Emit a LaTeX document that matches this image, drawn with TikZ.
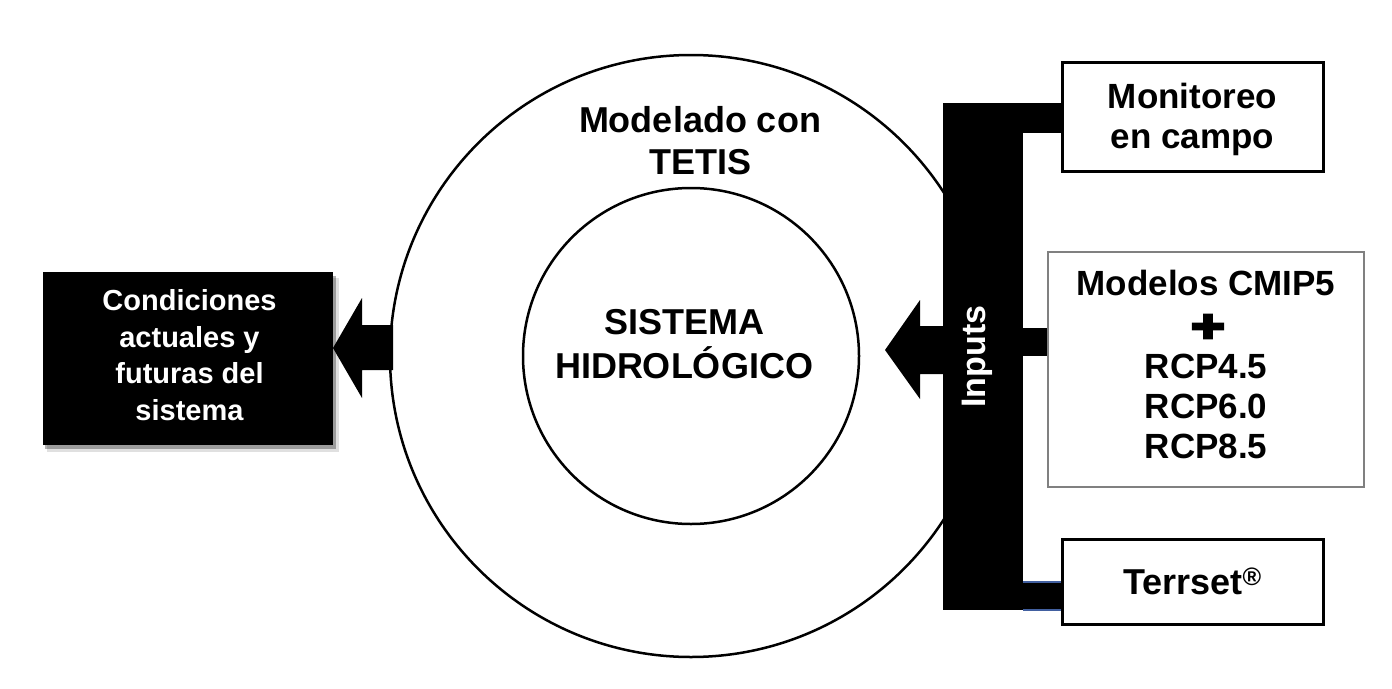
\documentclass[tikz,border=0pt]{standalone}
\usepackage{fontspec}
\setmainfont{Liberation Sans}
\newfontfamily\symfont[FakeBold=3]{DejaVu Sans}
\usetikzlibrary{calc}
\definecolor{edgeblue}{RGB}{66,96,160}
\definecolor{boxgray}{RGB}{128,128,128}
\begin{document}
\begin{tikzpicture}[x=1pt,y=-1pt,
  lbl/.style={align=center, inner sep=0pt},
  wbox/.style={draw=black, line width=3pt, fill=white, inner sep=0pt},
  ring/.style={circle, draw=black, line width=2.5pt, inner sep=0pt},
  bigarrow/.style={fill=black},
  f36/.style={font=\bfseries\fontsize{36}{42}\selectfont},
  f35/.style={font=\bfseries\fontsize{35}{40}\selectfont}]
\useasboundingbox (0,0) rectangle (1392,688);
\fill[white] (0,0) rectangle (1392,688);

% output box with shadow
\fill[black, opacity=0.12] (47,278) rectangle (339,452);
\fill[black, opacity=0.3] (45,276) rectangle (336,449);
\node[fill=black, minimum width=290pt, minimum height=173pt, inner sep=0pt] (cond) at (188,358.5) {};
\node[lbl, text=white, font=\bfseries\fontsize{29}{36.5}\selectfont] (condtext) at (189.5,355)
  {Condiciones\\actuales y\\futuras del\\sistema};

% arrow from the model to the output box
\coordinate (ltip) at (333,348);
\fill[bigarrow] (ltip) -- (362,298) -- (362,325) -- (393,325) -- (393,370) -- (362,370) -- (362,398) -- cycle;

% rings
\node[ring, minimum size=602pt] (outer) at (691,356) {};
\node[ring, minimum size=336pt] (inner) at (691,356) {};
\node[lbl, f36] (model) at (700,141) {Modelado con\\TETIS};
\node[lbl, font=\bfseries\fontsize{36}{44}\selectfont] (sys) at (684,344) {SISTEMA\\HIDROLÓGICO};

% inputs bar
\node[fill=black, minimum width=80pt, minimum height=507pt, inner sep=0pt] (bar) at (983,356.5) {};
\node[lbl, rotate=90, text=white, font=\bfseries\fontsize{34}{40}\selectfont] (inputs) at (977.5,356.5) {Inputs};

% arrow from the bar into the system
\coordinate (itip) at (885,350);
\fill[bigarrow] (itip) -- (920,300) -- (920,326) -- (bar.west |- 0,326) -- (bar.west |- 0,374) -- (920,374) -- (920,399) -- cycle;

% input boxes
\node[wbox, minimum width=261pt, minimum height=109pt] (mon) at (1192.5,116.5) {};
\node[lbl, f35] (montext) at (1192.5,119) {Monitoreo\\en campo};

\node[draw=boxgray, line width=1.7pt, fill=white, minimum width=316pt, minimum height=235pt, inner sep=0pt] (cmip) at (1206,369.5) {};
\node[lbl, font=\bfseries\fontsize{35}{40}\selectfont] (cmiptext) at (1206,364)
  {Modelos CMIP5\\[43pt]RCP4.5\\RCP6.0\\RCP8.5};
\node[inner sep=0pt, xscale=1.12, yscale=0.9, font=\symfont\fontsize{38}{38}\selectfont] (plus) at (1208,326.5) {✚};

\node[wbox, minimum width=261pt, minimum height=85pt, f36] (terr) at (1192.5,581.5) {Terrset\textsuperscript{®}};

% connectors bar -> boxes
\fill (bar.north east) rectangle (mon.west |- 0,133);
\fill (bar.east |- 0,328) rectangle (cmip.west |- 0,356);
\fill (bar.east |- 0,583) rectangle (terr.west |- 0,609);
\draw[edgeblue, line width=1.5pt] (bar.east |- 0,582) -- (terr.west |- 0,582);
\draw[edgeblue, line width=1.5pt] (bar.east |- 0,610) -- (terr.west |- 0,610);
\end{tikzpicture}
\end{document}
